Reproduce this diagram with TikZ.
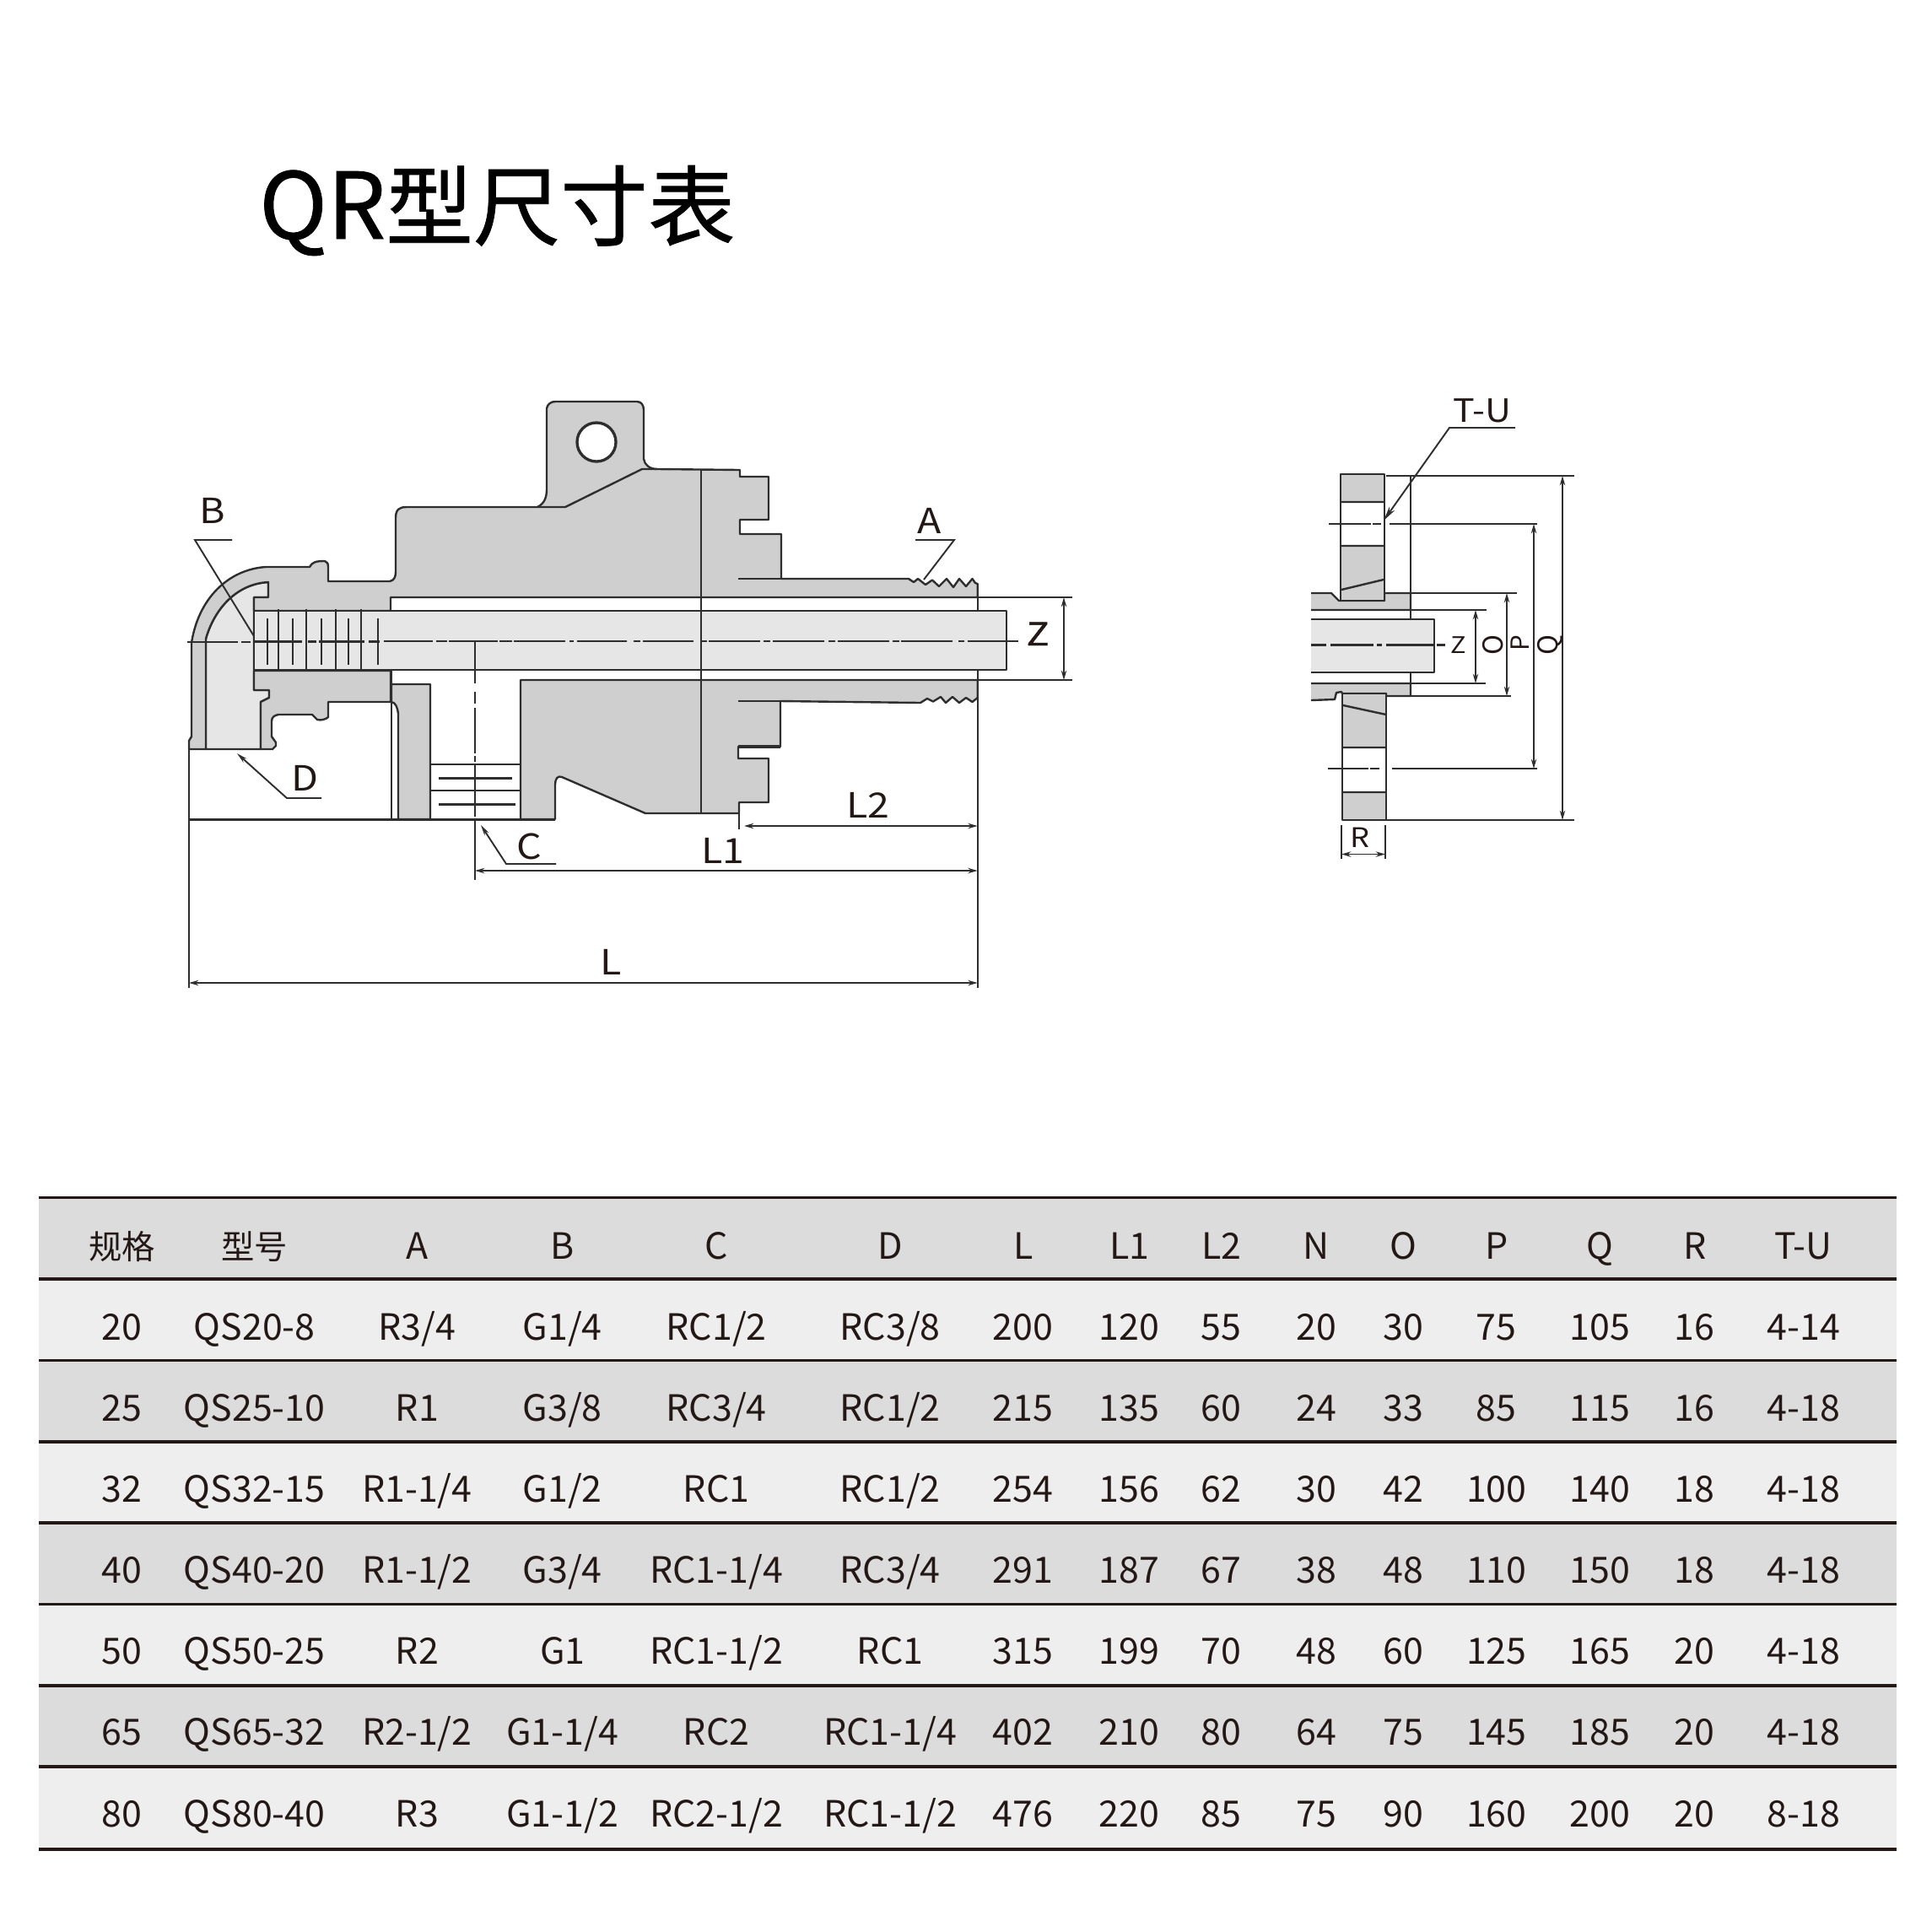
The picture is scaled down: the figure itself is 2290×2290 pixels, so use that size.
\documentclass[tikz,border=0pt]{standalone}
\usepackage{fontspec}
\setmainfont{Noto Sans CJK SC}
\newfontfamily\titlefont[FakeBold=0.7]{Noto Sans CJK SC}
\newfontfamily\lblfont[FakeStretch=1.13]{Noto Sans CJK SC}
\newfontfamily\zedfont[FakeStretch=1.2,FakeBold=1.2]{Noto Sans CJK SC}
\usetikzlibrary{arrows.meta}
\definecolor{ink}{HTML}{231815}
\definecolor{wire}{HTML}{2E2E2E}
\definecolor{bodygray}{HTML}{CFCFD0}
\definecolor{tubegray}{HTML}{E6E6E6}
\definecolor{banddark}{HTML}{DCDCDD}
\definecolor{bandlight}{HTML}{EEEEEF}
\newcommand{\pxfont}[1]{\fontsize{#1}{#1}\selectfont}
\newcommand{\hanz}{\fontsize{11.2}{11.2}\selectfont}
\tikzset{
  x=0.01cm,y=-0.01cm,
  outline/.style={draw=wire,line width=0.68pt,line join=round},
  metal/.style={outline,fill=bodygray},
  tube/.style={outline,fill=tubegray},
  thinline/.style={draw=wire,line width=0.55pt},
  centre/.style={draw=wire,line width=0.6pt},
  dim/.style={thinline,{Stealth[length=3.2pt,width=1.8pt]}-{Stealth[length=3.2pt,width=1.8pt]}},
  lead/.style={thinline,-{Stealth[length=3.6pt,width=1.7pt]}},
  lbl/.style={text=ink,anchor=base,inner sep=0pt,font=\lblfont\pxfont{11.7}},
  cell/.style={text=ink,anchor=base,inner sep=0pt,font=\pxfont{12.2}},
  rule/.style={draw=ink,line width=0.95pt},
}
\begin{document}
\begin{tikzpicture}
\useasboundingbox (0,0) rectangle (2290,2290);
% ---------- title
\node[text=black,anchor=base west,inner sep=0pt,font=\titlefont\pxfont{29.45}] (title) at (306.5,283) {{\pxfont{31}QR}型尺寸表};

% ---------- main view: inner cavity of the elbow
\draw[tube] (244,888) -- (244,757) .. controls (254,722) and (280,692) .. (318,690) -- (318,708) -- (301,708) -- (301,818) -- (319,818) -- (319,827) -- (309,832) -- (309,888) -- cycle;
% upper shell and body
\draw[metal] (224,888) -- (224,878) -- (227,873) -- (227,762) .. controls (235,710) and (270,675) .. (315,672) -- (367,672)
  .. controls (370,666) and (375,665) .. (385,665) .. controls (388,666) and (389,668) .. (389,672) -- (389,689)
  -- (462,689) .. controls (467,688) and (469,684) .. (469,678) -- (469,614) .. controls (469,604) and (473,601) .. (482,601)
  -- (637,601) .. controls (645,597) and (648,590) .. (648,580) -- (648,484) .. controls (649,479) and (653,476) .. (658,476)
  -- (755,476) .. controls (760,476) and (763,480) .. (763,486) -- (763,544) .. controls (764,551) and (770,556) .. (779,556)
  -- (877,557) -- (877,565) -- (911,565) -- (911,616) -- (877,616) -- (877,633) -- (926,633) -- (926,686)
  -- (1077,686) -- (1083,690) -- (1088,686) -- (1097,693) -- (1105,687.5) -- (1113,695) -- (1122,686) -- (1130,696) -- (1137,686) -- (1145,695) -- (1152.5,686) -- (1156,691) -- (1158.7,692)
  -- (1158.7,708) -- (463,708) -- (463,724) -- (301,724) -- (301,708) -- (318,708) -- (318,690)
  .. controls (280,692) and (254,722) .. (244,757) -- (244,888) -- cycle;
\draw[outline] (637,601) -- (670,601) -- (761,556) -- (779,556);
\draw[outline] (875,686) -- (926,686);
% lower body of the elbow
\draw[metal] (301,795) -- (463,795) -- (463,832) -- (389,832) -- (389,850) .. controls (386,853) and (380,854) .. (376,853) -- (370,847)
  -- (330,847) .. controls (325,848) and (322,850) .. (322,855) -- (322,873) -- (327,880) -- (327,884) -- (323,888) -- (309,888) -- (309,832) -- (319,827) -- (319,818) -- (301,818) -- cycle;
% second wall
\draw[metal] (464,832) -- (464,811) -- (510,811) -- (510,971) -- (472,971) -- (472,846) .. controls (471,838) and (469,833) .. (464,832);
\draw[outline] (464,795) -- (464,971);
% lower main body
\draw[metal] (617,971) -- (617,806) -- (1158.7,806) -- (1158.7,827) -- (1152.5,832) -- (1145,827) -- (1137,833) -- (1129,826) -- (1121,833) -- (1115,826) -- (1106,831.5) -- (1099,828) -- (1091,833)
  -- (925,831) -- (925,885) -- (875,885) -- (875,899) -- (911,899) -- (911,951) -- (876,951) -- (876,964) -- (765,964) -- (666,921) .. controls (661,919) and (658,923) .. (658,930) -- (658,971) -- cycle;
\draw[draw=wire,line width=1.3pt] (875,885) -- (925,885);
\draw[outline] (875,831) -- (925,831);
% band lines
\draw[outline] (463,708) -- (1271,708);
\draw[outline] (617,806) -- (1271,806);
% tube
\draw[tube] (301,724) rectangle (1193,794);
% thread marks in the tube
\foreach \tx in {330,363,398,428} \draw[outline] (\tx,722) -- (\tx,795);
\foreach \sx in {317,347,381,413,448} \draw[outline] (\sx,733) -- (\sx,788);
% partition
\draw[outline] (831,557) -- (831,964);
% mounting hole
\draw[outline,line width=0.95pt,fill=white] (707,524) circle [radius=23];
% port C
\draw[outline] (510,906) -- (617,906);
\draw[outline] (510,937) -- (617,937);
\draw[outline] (520,922.5) -- (607,922.5);
\draw[outline] (520,953.5) -- (611,953.5);
\draw[outline] (224,971.5) -- (658,971.5);
% centre lines
\draw[centre] (222,761) -- (282,761) (286,761) -- (297,761) (302,760.5) -- (358,760.5) (365,760.5) -- (375,760.5) (378,760.5) -- (432,760.5) (437,760.5) -- (450,760.5)
  (455,760) -- (513,760) (517,760) -- (530,760) (532,760) -- (590,760) (592,760) -- (607,760) (609,760) -- (670,760) (675,760) -- (680,760) (684,760) -- (743,760)
  (751,760) -- (759,760) (762,760) -- (822,760) (832,760) -- (838,760) (840,760) -- (901,760) (905,760) -- (913,760) (916,760) -- (977,760) (982,760) -- (990,760)
  (993,760) -- (1054,760) (1058,760) -- (1066,760) (1067.5,760) -- (1129,760) (1135.5,760) -- (1143,760) (1146.6,760) -- (1207,760);
\draw[centre] (563,760) -- (563,810) (563,820) -- (563,834) (563,839) -- (563,893) (563,896) -- (563,903) (563,907) -- (563,968);
% extension lines
\coordinate (Lleft) at (224,888);
\coordinate (Lleftend) at (224,1171);
\coordinate (Lright) at (1158.7,692);
\coordinate (Lrightend) at (1158.7,1171);
\coordinate (L1foot) at (563,971);
\coordinate (L1footend) at (563,1043);
\coordinate (L2foot) at (876,964);
\coordinate (L2footend) at (876,983);
\draw[thinline] (Lleft) -- (Lleftend);
\draw[thinline] (1158.7,794) -- (Lrightend);
\draw[outline] (Lright) -- (1158.7,724);
\draw[thinline] (L1foot) -- (L1footend);
\draw[thinline] (L2foot) -- (L2footend);
% dimensions
\coordinate (dLa) at (224,1165); \coordinate (dLb) at (1158.7,1165);
\coordinate (dL1a) at (563,1032); \coordinate (dL1b) at (1158.7,1032);
\coordinate (dL2a) at (882,979); \coordinate (dL2b) at (1158.7,979);
\coordinate (dZa) at (1261,708); \coordinate (dZb) at (1261,806);
\draw[dim] (dLa) -- (dLb);
\draw[dim] (dL1a) -- (dL1b);
\draw[dim] (dL2a) -- (dL2b);
\draw[dim] (dZa) -- (dZb);
\node[lbl] (tL) at (724,1155) {L};
\node[lbl] (tLone) at (857,1023) {L1};
\node[lbl] (tLtwo) at (1029,969) {L2};
\node[lbl,font=\zedfont\pxfont{10.6}] (tZ) at (1230,765) {Z};
% leaders
\coordinate (Bend) at (275,640); \coordinate (Bknee) at (231,640); \coordinate (Btip) at (301,754);
\draw[thinline] (Bend) -- (Bknee) -- (Btip);
\node[lbl] (tB) at (252,620) {B};
\coordinate (Aend) at (1085,640); \coordinate (Aknee) at (1131,640); \coordinate (Atip) at (1095,687);
\draw[thinline] (Aend) -- (Aknee) -- (Atip);
\node[lbl] (tA) at (1102,632) {A};
\coordinate (Dend) at (381,946); \coordinate (Dknee) at (340,946); \coordinate (Dtip) at (281,893);
\draw[lead] (Dend) -- (Dknee) -- (Dtip);
\node[lbl] (tD) at (361,937) {D};
\coordinate (Cend) at (659,1024); \coordinate (Cknee) at (600,1024); \coordinate (Ctip) at (570,978);
\draw[lead] (Cend) -- (Cknee) -- (Ctip);
\node[lbl] (tC) at (627,1018) {C};

% ---------- flange view
\draw[metal] (1554,703) -- (1578,703) -- (1587,712) -- (1641,712) -- (1641,703) -- (1672,703) -- (1672,723) -- (1554,723);
\draw[metal] (1554,810) -- (1672,810) -- (1672,825) -- (1643,825) -- (1643,822) -- (1591,822) -- (1590,820) -- (1584,821) -- (1582,829) -- (1554,830);
% upper flange
\fill[bodygray] (1589,562) rectangle (1641,595);
\fill[white] (1589,595) rectangle (1641,647);
\fill[bodygray] (1589,647) rectangle (1641,712);
\draw[outline] (1589,562) rectangle (1641,712);
\draw[outline] (1589,595) -- (1641,595) (1589,647) -- (1641,647) (1590,699) -- (1640,687);
% lower flange
\fill[bodygray] (1591,822) rectangle (1643,886);
\fill[white] (1591,886) rectangle (1643,939);
\fill[bodygray] (1591,939) rectangle (1643,972);
\draw[outline] (1591,822) rectangle (1643,972);
\draw[outline] (1591,886) -- (1643,886) (1591,939) -- (1643,939) (1592,836) -- (1643,847);
% back face and tube
\draw[outline] (1672,565) -- (1672,825);
\draw[fill=tubegray,outline] (1554,734) -- (1700,734) -- (1700,797) -- (1554,797);
% flange centre lines
\draw[centre] (1575,621) -- (1625,621) (1627,621) -- (1637,621) (1647,621) -- (1822,621);
\draw[centre] (1574,911) -- (1622,911) (1624,911) -- (1635,911) (1650,911) -- (1822,911);
\draw[centre] (1554,764.5) -- (1572,764.5) (1577,764.5) -- (1628,764.5) (1632,764.5) -- (1638,764.5) (1643,764.5) -- (1700,764.5) (1703,764.5) -- (1713,764.5);
% flange extension lines
\draw[thinline] (1643,564) -- (1866,564);
\draw[thinline] (1591,972) -- (1866,972);
\draw[thinline] (1641,703) -- (1798,703);
\draw[thinline] (1643,825) -- (1791,825);
\draw[thinline] (1672,723) -- (1762,723);
\draw[thinline] (1672,810) -- (1761,810);
\coordinate (Rla) at (1590,978); \coordinate (Rlb) at (1590,1018);
\coordinate (Rra) at (1642,978); \coordinate (Rrb) at (1642,1018);
\draw[thinline] (Rla) -- (Rlb);
\draw[thinline] (Rra) -- (Rrb);
% flange dimensions
\coordinate (fZa) at (1749,723); \coordinate (fZb) at (1749,810);
\coordinate (fOa) at (1786,703); \coordinate (fOb) at (1786,825);
\coordinate (fPa) at (1818,621); \coordinate (fPb) at (1818,911);
\coordinate (fQa) at (1852,564); \coordinate (fQb) at (1852,972);
\coordinate (fRa) at (1590,1012.5); \coordinate (fRb) at (1642,1012.5);
\draw[dim] (fZa) -- (fZb);
\draw[dim] (fOa) -- (fOb);
\draw[dim] (fPa) -- (fPb);
\draw[dim] (fQa) -- (fQb);
\draw[dim] (fRa) -- (fRb);
\node[text=ink,inner sep=0pt,font=\lblfont\pxfont{7.7}] (tfZ) at (1729,764.5) {Z};
\node[text=ink,inner sep=0pt,font=\pxfont{9.2},rotate=90] (tfO) at (1770,764.5) {O};
\node[text=ink,inner sep=0pt,font=\pxfont{8.4},rotate=90] (tfP) at (1802,762) {P};
\node[text=ink,inner sep=0pt,font=\pxfont{9.2},rotate=90] (tfQ) at (1837,764) {Q};
\node[lbl,font=\lblfont\pxfont{9.1}] (tfR) at (1612,1004) {R};
\coordinate (TUend) at (1796,507); \coordinate (TUknee) at (1718,507); \coordinate (TUtip) at (1640,617);
\draw[thinline,-{Stealth[length=5pt,width=2.2pt]}] (TUend) -- (TUknee) -- (TUtip);
\node[lbl,font=\lblfont\pxfont{10.8}] (tTU) at (1757,500) {T-U};

% ---------- table
\foreach \ty/\tb/\tc in {1419.5/1516/banddark,1516/1612.5/bandlight,1612.5/1709/banddark,1709/1805/bandlight,1805/1901.5/banddark,1901.5/1998/bandlight,1998/2094/banddark,2094/2192/bandlight}
  \fill[\tc] (46,\ty) rectangle (2248,\tb);
\foreach \ry in {1419.5,1516,1612.5,1709,1805,1901.5,1998,2094,2192}
  \draw[rule] (46,\ry) -- (2248,\ry);
\foreach \ro [count=\ri from 0] in {
  {\hanz 规格,\hanz 型号,A,B,C,D,L,L1,L2,N,O,P,Q,R,T-U},
  {20,QS20-8,R3/4,G1/4,RC1/2,RC3/8,200,120,55,20,30,75,105,16,4-14},
  {25,QS25-10,R1,G3/8,RC3/4,RC1/2,215,135,60,24,33,85,115,16,4-18},
  {32,QS32-15,R1-1/4,G1/2,RC1,RC1/2,254,156,62,30,42,100,140,18,4-18},
  {40,QS40-20,R1-1/2,G3/4,RC1-1/4,RC3/4,291,187,67,38,48,110,150,18,4-18},
  {50,QS50-25,R2,G1,RC1-1/2,RC1,315,199,70,48,60,125,165,20,4-18},
  {65,QS65-32,R2-1/2,G1-1/4,RC2,RC1-1/4,402,210,80,64,75,145,185,20,4-18},
  {80,QS80-40,R3,G1-1/2,RC2-1/2,RC1-1/2,476,220,85,75,90,160,200,20,8-18}}
{
  \foreach \ce [count=\ci] in \ro {
    \pgfmathsetmacro{\cx}{{144.7,301.7,494.3,666.7,849.2,1055.2,1212.7,1338.7,1447.7,1560.4,1663.7,1773.7,1896.6,2008.7,2137.7}[\ci-1]}
    \pgfmathsetmacro{\cy}{1492+96.15*\ri}
    \node[cell] (cell-\ri-\ci) at (\cx,\cy) {\ce};
  }
}
\end{tikzpicture}
\end{document}
